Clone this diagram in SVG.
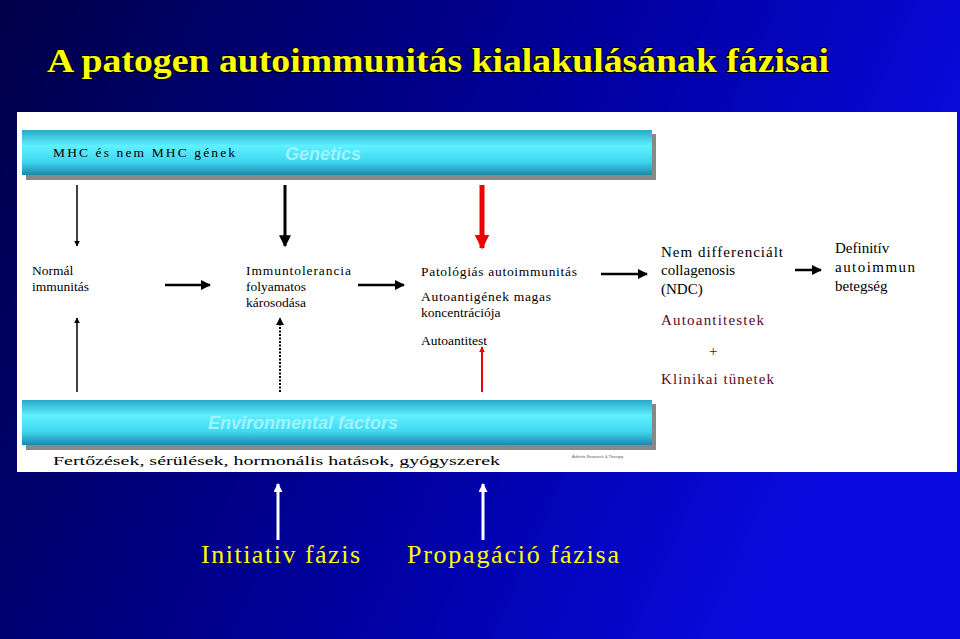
<svg xmlns="http://www.w3.org/2000/svg" width="960" height="639" viewBox="0 0 960 639">
<defs>
<linearGradient id="bg" x1="0" y1="0" x2="1" y2="0.3"><stop offset="0" stop-color="#000048"/><stop offset="0.6" stop-color="#0000a0"/><stop offset="1" stop-color="#0a0ae0"/></linearGradient>
<linearGradient id="cy" x1="0" y1="0" x2="0" y2="1"><stop offset="0" stop-color="#2aa8c8"/><stop offset="0.35" stop-color="#5ef0ff"/><stop offset="0.7" stop-color="#40d8f0"/><stop offset="1" stop-color="#1a8aa8"/></linearGradient>
<marker id="ab" viewBox="0 0 10 10" refX="9" refY="5" markerWidth="4" markerHeight="4" orient="auto"><path d="M0,0L10,5L0,10z" fill="#000"/></marker>
<marker id="ar" viewBox="0 0 10 10" refX="9" refY="5" markerWidth="3" markerHeight="4" orient="auto"><path d="M0,0L10,5L0,10z" fill="#e00"/></marker>
<marker id="aw" viewBox="0 0 10 10" refX="9" refY="5" markerWidth="4" markerHeight="3" orient="auto"><path d="M0,0L10,5L0,10z" fill="#fff"/></marker>
</defs>
<style>
.t{font-family:"Liberation Serif",serif;font-size:13.5px;fill:#000}
.b{font-size:15px}
.m{fill:#5a0a2a}
.y{font-family:"Liberation Serif",serif;fill:#ff0}
.w{font-family:"Liberation Sans",sans-serif;font-style:italic;font-weight:bold;fill:#9ff4ff;font-size:18px}
.k{stroke:#000;fill:none}
</style>
<rect width="960" height="639" fill="url(#bg)"/>
<text class="y" x="47" y="72" font-size="33" font-weight="bold" textLength="782" lengthAdjust="spacingAndGlyphs" style="paint-order:stroke" stroke="#000" stroke-width="2">A patogen autoimmunitás kialakulásának fázisai</text>
<rect x="17" y="112" width="940" height="360" fill="#fff"/>
<g id="genetics">
<rect x="26" y="134" width="630" height="46" fill="#888"/>
<rect x="22" y="130" width="630" height="45" fill="url(#cy)"/>
<text class="t" x="53" y="157" font-size="14" textLength="182">MHC és nem MHC gének</text>
<text class="w" x="285" y="160">Genetics</text>
</g>
<g id="env">
<rect x="26" y="404" width="630" height="46" fill="#888"/>
<rect x="22" y="400" width="630" height="45" fill="url(#cy)"/>
<text class="w" x="208" y="429">Environmental factors</text>
<text class="t" x="53" y="465" font-size="18" textLength="447" lengthAdjust="spacingAndGlyphs">Fertőzések, sérülések, hormonális hatások, gyógyszerek</text>
<text x="572" y="458" font-family="Liberation Sans,sans-serif" font-size="4" fill="#555">Arthritis Research &amp; Therapy</text>
</g>
<g id="n1"><text class="t" x="32" y="275">Normál</text><text class="t" x="32" y="291">immunitás</text></g>
<g id="n2"><text class="t" x="246" y="275" textLength="105">Immuntolerancia</text><text class="t" x="246" y="291">folyamatos</text><text class="t" x="246" y="307">károsodása</text></g>
<g id="n3"><text class="t" x="421" y="276" textLength="156">Patológiás autoimmunitás</text><text class="t" x="421" y="301" textLength="130">Autoantigének magas</text><text class="t" x="421" y="317">koncentrációja</text><text class="t" x="421" y="345">Autoantitest</text></g>
<g id="n4"><text class="t b" x="661" y="257" textLength="122">Nem differenciált</text><text class="t b" x="661" y="275">collagenosis</text><text class="t b" x="661" y="294">(NDC)</text>
<text class="t b m" x="661" y="325" textLength="103">Autoantitestek</text><text class="t b m" x="709" y="356">+</text><text class="t b m" x="661" y="384" textLength="113">Klinikai tünetek</text></g>
<g id="n5"><text class="t b" x="835" y="253">Definitív</text><text class="t b" x="835" y="272" textLength="80">autoimmun</text><text class="t b" x="835" y="291">betegség</text></g>
<g id="phases"><text class="y" x="201" y="563" font-size="26" textLength="159">Initiativ fázis</text><text class="y" x="407" y="563" font-size="26" textLength="212">Propagáció fázisa</text></g>
<g id="connectors">
<line class="k" x1="77" y1="185" x2="77" y2="246" stroke-width="1.5" marker-end="url(#ab)"/>
<line class="k" x1="285" y1="185" x2="285" y2="246" stroke-width="3" marker-end="url(#ab)"/>
<line x1="482" y1="185" x2="482" y2="248" stroke="#e00" stroke-width="5" marker-end="url(#ar)"/>
<line class="k" x1="77" y1="392" x2="77" y2="318" stroke-width="1.5" marker-end="url(#ab)"/>
<line class="k" x1="280" y1="392" x2="280" y2="318" stroke-width="2" stroke-dasharray="2,1.5" marker-end="url(#ab)"/>
<line x1="482" y1="392" x2="482" y2="347" stroke="#e00" stroke-width="2" marker-end="url(#ar)"/>
<line class="k" x1="165" y1="285" x2="210" y2="285" stroke-width="2.5" marker-end="url(#ab)"/>
<line class="k" x1="358" y1="285" x2="404" y2="285" stroke-width="2.5" marker-end="url(#ab)"/>
<line class="k" x1="601" y1="274" x2="647" y2="274" stroke-width="2.5" marker-end="url(#ab)"/>
<line class="k" x1="795" y1="270" x2="821" y2="270" stroke-width="2.5" marker-end="url(#ab)"/>
<line x1="278" y1="540" x2="278" y2="484" stroke="#fff" stroke-width="3" marker-end="url(#aw)"/>
<line x1="483" y1="540" x2="483" y2="484" stroke="#fff" stroke-width="3" marker-end="url(#aw)"/>
</g>
</svg>
